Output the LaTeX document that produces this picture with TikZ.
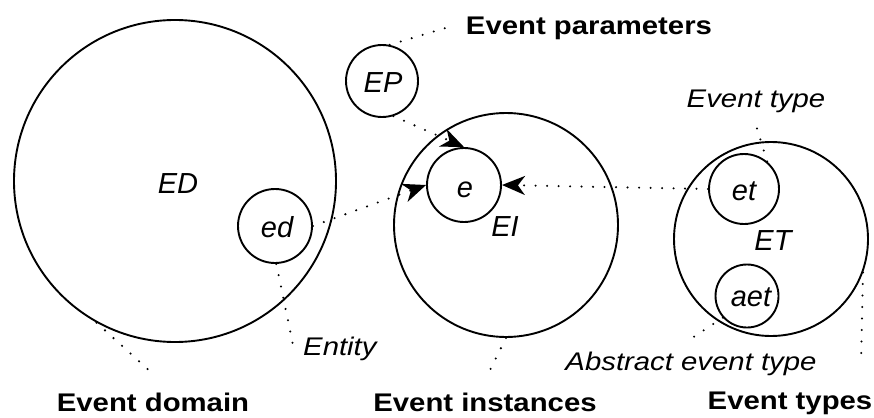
\documentclass[tikz,border=0pt]{standalone}
\usepackage{fontspec}
\setmainfont{Liberation Sans}
\newfontfamily\lblfont{Liberation Sans}[FakeStretch=1.15]
\usetikzlibrary{arrows.meta}
\begin{document}
\begin{tikzpicture}[x=1pt,y=-1pt,
  ring/.style={draw, circle, line width=1.9pt, inner sep=0pt},
  inner/.style={anchor=base, inner sep=0pt, font=\fontsize{29}{29}\selectfont\itshape},
  title/.style={anchor=base, inner sep=0pt, font=\lblfont\fontsize{25.5}{25.5}\selectfont\bfseries},
  note/.style={anchor=base, inner sep=0pt, font=\lblfont\fontsize{25.5}{25.5}\selectfont\itshape},
  dotline/.style={line width=2.3pt, line cap=round, dash pattern=on 0pt off 11.5pt},
  dotarrow/.style={dotline, -{Stealth[length=23pt,width=19pt,inset=7pt]}}]
\path[use as bounding box] (0,0) rectangle (874,417);
% circles
\node[ring, minimum size=322pt] (ED) at (175,181) {};
\node[ring, minimum size=72pt]  (EP) at (382,81) {};
\node[ring, minimum size=224pt] (EI) at (506,225) {};
\node[ring, minimum size=74pt]  (e)  at (464,185) {};
\node[ring, minimum size=194pt] (ET) at (771,239) {};
\node[ring, minimum size=70pt]  (et) at (744,189) {};
\node[ring, minimum size=63pt]  (aet) at (747,296) {};
\node[ring, minimum size=74pt]  (ed) at (275,226) {};
% inner texts
\node[inner] (tED) at (178,193) {ED};
\node[inner] (tEP) at (383,93) {EP};
\node[inner] (te) at (465,197) {e};
\node[inner] (tEI) at (505,236) {EI};
\node[inner] (tet) at (744,200) {et};
\node[inner] (tET) at (773,250) {ET};
\node[inner] (taet) at (751,306) {aet};
\node[inner] (ted) at (277,237) {ed};
% outer labels
\node[title] (lEP) at (589,35) {Event parameters};
\node[title] (lED) at (153,411) {Event domain};
\node[title] (lEI) at (485,411) {Event instances};
\node[title] (lETs) at (790,409) {Event types};
\node[note] (lET) at (756,107) {Event type};
\node[note, anchor=base west] (lEnt) at (303,355) {Entity};
\node[note] (lAET) at (691,370) {Abstract event type};
% free ends
\coordinate (cEP) at (452,26);
\coordinate (cET) at (755,122);
\coordinate (cEnt) at (293,345);
\coordinate (cED) at (153,374);
\coordinate (cEI) at (487,376);
\coordinate (cAET) at (692,338);
\coordinate (cETs) at (861,364);
% label connectors
\draw[dotline] (EP.78) -- (cEP);
\draw[dotline] (et.50) -- (cET);
\draw[dotline] (ed.-88) -- (cEnt);
\draw[dotline] (ED.241) -- (cED);
\draw[dotline] (EI.south) -- (cEI);
\draw[dotline] (aet.222) -- (cAET);
\draw[dotline] (ET.-20) -- (cETs);
% arrows
\draw[dotarrow] (ed.east) -- (e.west);
\draw[dotarrow] (EP.-72) -- (e.north);
\draw[dotarrow] (et.west) -- (e.east);
\end{tikzpicture}
\end{document}
